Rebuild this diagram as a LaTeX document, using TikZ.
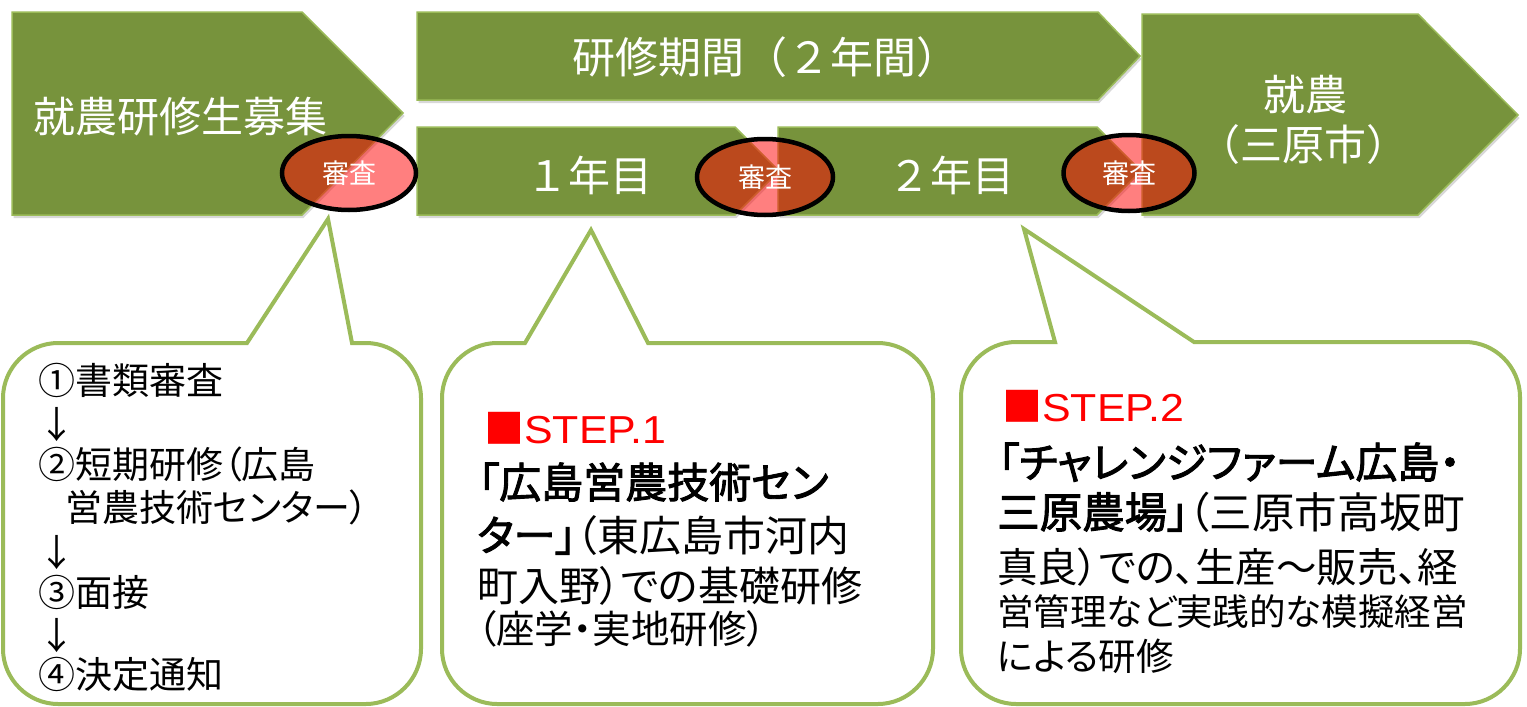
\documentclass[tikz,border=0pt]{standalone}
\usepackage{fontspec}
\setmainfont{Noto Sans CJK JP}
\newfontfamily\jp[RawFeature=+palt]{Noto Sans CJK JP}
\newfontfamily\jpb[RawFeature=+palt, FakeBold=2.2]{Noto Sans CJK JP}
\newfontfamily\stepf[FakeStretch=1.1]{Liberation Sans}
\usetikzlibrary{shadows,shapes.geometric}
\definecolor{grn}{HTML}{77933C}
\definecolor{grnl}{HTML}{9BBB59}
\definecolor{stepred}{HTML}{FF0000}
\newcommand\calloutbox[8]{% L T R B ax px py bx
  \draw[callout] (#5,#2) -- (#6,#7) -- (#8,#2) -- ({#3-55},#2)
    .. controls ({#3-25},#2) and (#3,{#2+25}) .. (#3,{#2+55}) -- (#3,{#4-55})
    .. controls (#3,{#4-25}) and ({#3-25},#4) .. ({#3-55},#4) -- ({#1+55},#4)
    .. controls ({#1+25},#4) and (#1,{#4-25}) .. (#1,{#4-55}) -- (#1,{#2+55})
    .. controls (#1,{#2+25}) and ({#1+25},#2) .. ({#1+55},#2) -- cycle;}
\newcommand\fs[1]{\fontsize{#1}{#1}\selectfont}
\tikzset{
  stage/.style={fill=grn, draw=grnl, line width=1.5pt, line join=miter,
    drop shadow={shadow xshift=1.5pt, shadow yshift=-3pt, opacity=0.3}},
  wtext/.style={text=white, inner sep=0pt, font=\fs{42}},
  judge/.style={ellipse, draw=black, line width=4.5pt, fill=red, fill opacity=0.5,
    text opacity=1, text=white, minimum width=134pt, minimum height=74pt, inner sep=0pt,
    font=\fs{27}},
  callout/.style={draw=grnl, fill=white, line width=4pt, line join=miter},
  body/.style={anchor=base west, inner sep=0pt, text=black, font=\jp\fs{38}},
  list/.style={anchor=base west, inner sep=0pt, text=black, font=\jp\fs{37}},
  steplbl/.style={anchor=base west, inner sep=0pt, text=stepred, font=\fs{39}},
}
\begin{document}
\begin{tikzpicture}[x=1pt,y=-1pt]
\useasboundingbox (0,0) rectangle (1527,707);
\fill[white] (0,0) rectangle (1527,707);
% stages
\draw[stage] (12,12) -- (302,12) -- (403,113) -- (302,215) -- (12,215) -- cycle;
\draw[stage] (417,12) -- (1098,12) -- (1140,56) -- (1098,100) -- (417,100) -- cycle;
\draw[stage] (417,127) -- (735,127) -- (779,171) -- (735,215) -- (417,215) -- cycle;
\draw[stage] (778,127) -- (1097,127) -- (1141,171) -- (1097,215) -- (778,215) -- cycle;
\draw[stage] (1142,14) -- (1418,14) -- (1518,115) -- (1418,215) -- (1142,215) -- cycle;
\node[wtext] (recruit) at (181,117) {就農研修生募集};
\node[wtext, font=\fs{43}] (period) at (766,57) {研修期間（２年間）};
\node[wtext] (year1) at (589,175) {１年目};
\node[wtext] (year2) at (951,175) {２年目};
\node[wtext] (farm) at (1305,95) {就農};
\node[wtext] (farmcity) at (1303,145) {（三原市）};
% judgements
\node[judge] (j1) at (349,173) {審査};
\node[judge, minimum width=136pt, minimum height=76pt] (j2) at (765,177) {審査};
\node[judge, minimum width=131pt, minimum height=76pt] (j3) at (1129,173) {審査};
% callouts
\calloutbox{3}{343}{421}{704}{247}{328}{219}{352}
\calloutbox{442}{343}{933}{704}{525}{591}{230}{648}
\calloutbox{961}{342}{1520}{704}{1055}{1024}{229}{1194}
% box 1 text
\node[list] (a1) at (38,394) {①書類審査};
\node[list] (a2) at (38,438) {↓};
\node[list] (a3) at (38,478) {②短期研修（広島};
\node[list] (a4) at (65,521) {営農技術センター）};
\node[list] (a5) at (38,566) {↓};
\node[list] (a6) at (38,606) {③面接};
\node[list] (a7) at (38,649) {↓};
\node[list] (a8) at (38,688) {④決定通知};
% box 2 text
\node[steplbl] (s1) at (484,443) {{\jp\fs{40}■}{\stepf STEP.1}};
\node[body, font=\jpb\fs{42}] (b1) at (478,498) {「広島営農技術セン};
\node[body, font=\jp\fs{42}] (b2) at (477,551) {{\jpb ター」}（東広島市河内};
\node[body, font=\jp\fs{41}] (b3) at (477,601) {町入野）での基礎研修};
\node[body, font=\jp\fs{38.5}] (b4) at (477,643) {（座学・実地研修）};
% box 3 text
\node[steplbl] (s2) at (1002,421) {{\jp\fs{40}■}{\stepf STEP.2}};
\node[body, font=\jpb\fs{42}] (c1) at (998,478) {「チャレンジファーム広島・};
\node[body, font=\jp\fs{42.5}] (c2) at (997,528) {{\jpb 三原農場」}（三原市高坂町};
\node[body, font=\jp\fs{40.5}] (c3) at (997,582) {真良）での、生産～販売、経};
\node[body, font=\jp\fs{36.5}] (c4) at (997,625) {営管理など実践的な模擬経営};
\node[body, font=\jp\fs{37.5}] (c5) at (997,670) {による研修};
\end{tikzpicture}
\end{document}
